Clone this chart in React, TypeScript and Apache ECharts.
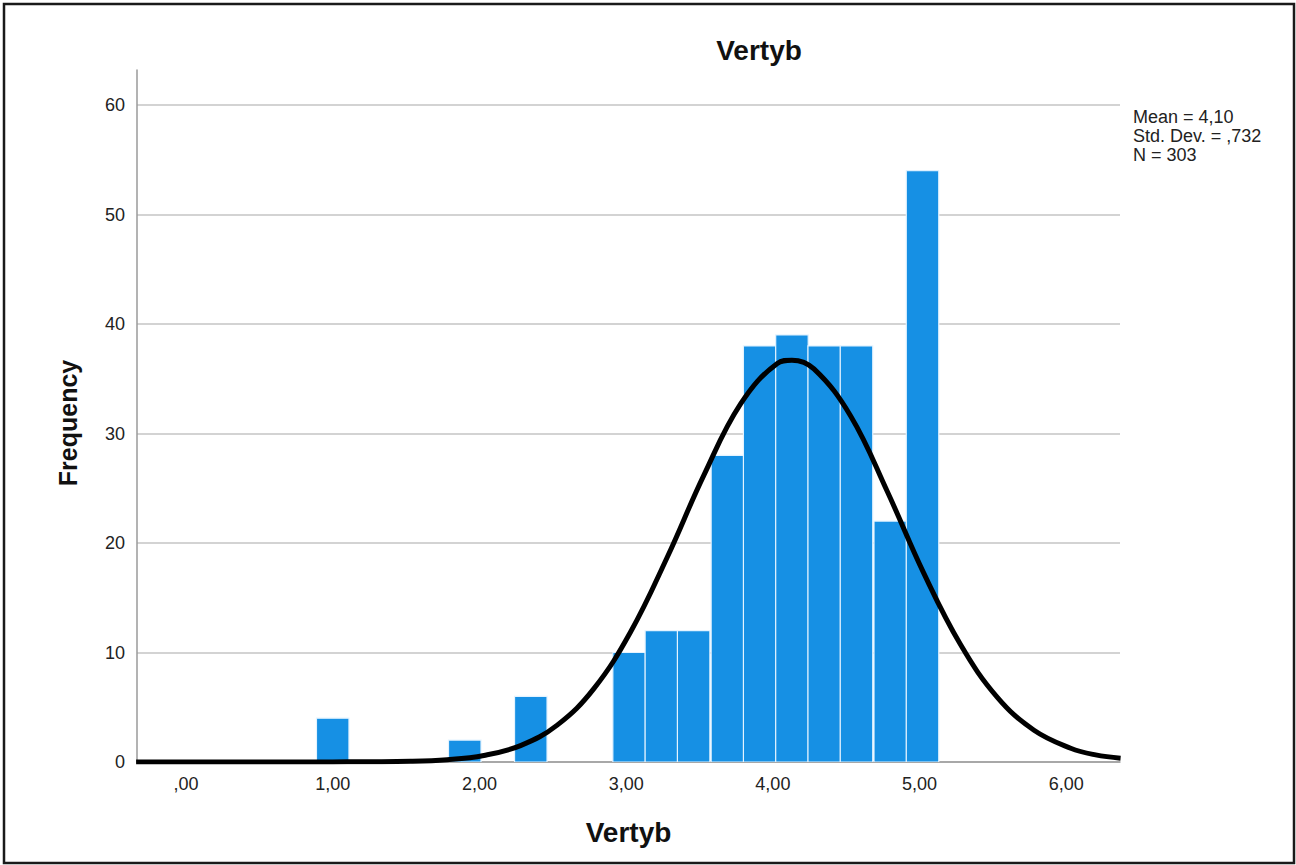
import React, { useEffect, useRef } from "react";
import * as echarts from "echarts";

// Histogram bins (bin centres) and their frequencies
const binCenters = [1.0, 1.9, 2.35, 3.02, 3.24, 3.46, 3.69, 3.91, 4.13, 4.35, 4.57, 4.8, 5.02];
const binCounts = [4, 2, 6, 10, 12, 12, 28, 38, 39, 38, 38, 22, 54];
const binWidth = 0.2215;

// Normal curve
const curveX = [-0.34, 0.5, 1.0, 1.53, 1.78, 2.03, 2.28, 2.53, 2.78, 3.03, 3.28, 3.53, 3.78, 4.03, 4.13, 4.28, 4.53, 4.78, 5.03, 5.28, 5.53, 5.78, 6.03, 6.2, 6.37];
const curveY = [0, 0, 0.01, 0.07, 0.21, 0.6, 1.5, 3.37, 6.7, 11.87, 18.7, 26.2, 32.7, 36.4, 36.7, 35.9, 31.6, 24.7, 17.2, 10.7, 5.9, 2.9, 1.26, 0.65, 0.35];

const xTickValues = [0, 1, 2, 3, 4, 5, 6];
const xTickLabels = [",00", "1,00", "2,00", "3,00", "4,00", "5,00", "6,00"];
const yTickValues = [0, 10, 20, 30, 40, 50, 60];

const chartTitle = "Vertyb";
const xAxisTitle = "Vertyb";
const yAxisTitle = "Frequency";
const statsLines = ["Mean = 4,10", "Std. Dev. = ,732", "N = 303"];

const FONT = "'Liberation Sans', Arial, sans-serif";

export default function App() {
  const ref = useRef<HTMLDivElement>(null);

  useEffect(() => {
    if (!ref.current) return;
    const chart = echarts.init(ref.current, undefined, { renderer: "svg" });
    const option: any = {
      animation: false,
      backgroundColor: "#ffffff",
      textStyle: { fontFamily: FONT },
      grid: { left: 137, right: 176, top: 70, bottom: 103, containLabel: false },
      xAxis: {
        type: "value",
        min: -0.334,
        max: 6.366,
        axisLine: { show: true, onZero: false, lineStyle: { color: "#9a9a9a", width: 1.5 } },
        axisTick: { show: false, customValues: xTickValues },
        splitLine: { show: false },
        axisLabel: {
          customValues: xTickValues,
          formatter: (v: number) => {
            const i = xTickValues.indexOf(Math.round(v));
            return i >= 0 ? xTickLabels[i] : "";
          },
          fontSize: 18,
          color: "#222222",
          fontFamily: FONT,
          margin: 13,
        },
        name: xAxisTitle,
        nameLocation: "middle",
        nameGap: 56,
        nameTextStyle: { fontSize: 28, fontWeight: "bold", color: "#111111", fontFamily: FONT },
      },
      yAxis: {
        type: "value",
        min: 0,
        max: 63.2,
        axisLine: { show: true, onZero: false, lineStyle: { color: "#9a9a9a", width: 1.5 } },
        axisTick: { show: false, customValues: yTickValues },
        splitLine: { show: true, lineStyle: { color: "#c4c4c4", width: 1.5 } },
        axisLabel: {
          customValues: yTickValues,
          fontSize: 18,
          color: "#222222",
          fontFamily: FONT,
          margin: 12,
        },
      },
      graphic: [
        {
          type: "rect",
          silent: true,
          shape: { x: 4, y: 4, width: 1290, height: 859 },
          style: { fill: "none", stroke: "#1a1a1a", lineWidth: 2.5 },
        },
        {
          type: "text",
          x: 759,
          y: 50,
          style: {
            text: chartTitle,
            fontSize: 28,
            fontWeight: "bold",
            fill: "#111111",
            fontFamily: FONT,
            align: "center",
            verticalAlign: "middle",
          },
        },
        {
          type: "text",
          x: 68,
          y: 423,
          rotation: Math.PI / 2,
          style: {
            text: yAxisTitle,
            fontSize: 25,
            fontWeight: "bold",
            fill: "#111111",
            fontFamily: FONT,
            align: "center",
            verticalAlign: "middle",
          },
        },
        {
          type: "text",
          x: 1133,
          y: 107,
          style: {
            text: statsLines.join("\n"),
            fontSize: 18,
            lineHeight: 19,
            fill: "#222222",
            fontFamily: FONT,
            align: "left",
            verticalAlign: "top",
          },
        },
      ],
      series: [
        {
          type: "custom",
          clip: true,
          encode: { x: 0, y: 1 },
          data: binCenters.map((c, i) => [c, binCounts[i]]),
          renderItem: (params: any, api: any) => {
            const c = api.value(0);
            const v = api.value(1);
            const p0 = api.coord([c - binWidth / 2, v]);
            const p1 = api.coord([c + binWidth / 2, 0]);
            return {
              type: "rect",
              shape: { x: p0[0], y: p0[1], width: p1[0] - p0[0], height: p1[1] - p0[1] },
              style: { fill: "#1690e4", stroke: "#e4f3ff", lineWidth: 1.2 },
            };
          },
          z: 2,
        },
        {
          type: "line",
          data: curveX.map((x, i) => [x, curveY[i]]),
          smooth: 0.4,
          symbol: "none",
          clip: true,
          lineStyle: { color: "#000000", width: 5 },
          z: 3,
        },
      ],
    };
    chart.setOption(option);
    return () => chart.dispose();
  }, []);

  return (
    <div
      ref={ref}
      style={{ position: "fixed", left: 0, top: 0, width: 1296, height: 865, background: "#ffffff" }}
    />
  );
}
